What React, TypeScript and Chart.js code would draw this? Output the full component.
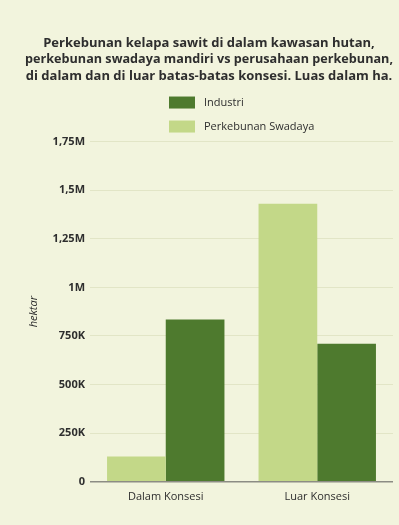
import React, { useEffect, useRef } from "react";
import { Chart, registerables } from "chart.js";

Chart.register(...registerables);

const categories = ["Dalam Konsesi", "Luar Konsesi"];
const swadayaValues = [130000, 1430000];
const industriValues = [835000, 710000];
const seriesLabels = ["Perkebunan Swadaya", "Industri"];
const yTickLabels = ["0", "250K", "500K", "750K", "1M", "1,25M", "1,5M", "1,75M"];
const titleLines = [
  "Perkebunan kelapa sawit di dalam kawasan hutan,",
  "perkebunan swadaya mandiri vs perusahaan perkebunan,",
  "di dalam dan di luar batas-batas konsesi. Luas dalam ha.",
];
const yAxisTitle = "hektar";

const BG = "#f2f4dd";
const DARK = "#4e7a2e";
const LIGHT = "#c3d888";
const TEXT = "#2e2e2e";
const FONT = "'Open Sans', Lato, sans-serif";

const bgPlugin = {
  id: "bg",
  beforeDraw(chart: any) {
    const { ctx, width, height } = chart;
    ctx.save();
    ctx.fillStyle = BG;
    ctx.fillRect(0, 0, width, height);
    ctx.restore();
  },
};

const stackedLegend = {
  id: "stackedLegend",
  afterDraw(chart: any) {
    const { ctx, chartArea } = chart;
    const items = chart.data.datasets
      .map((d: any) => ({ text: d.label, color: d.backgroundColor }))
      .reverse();
    ctx.save();
    ctx.font = `400 11px ${FONT}`;
    const boxW = 26;
    const boxH = 12;
    const gap = 9;
    const maxText = Math.max(...items.map((it: any) => ctx.measureText(it.text).width));
    const blockW = boxW + gap + maxText;
    const cx = (chartArea.left + chartArea.right) / 2;
    const left = Math.round(cx - blockW / 2);
    const rowCenters = [chartArea.top - 39, chartArea.top - 15];
    items.forEach((it: any, i: number) => {
      const y = rowCenters[i];
      ctx.fillStyle = it.color;
      ctx.fillRect(left, y - boxH / 2, boxW, boxH);
      ctx.fillStyle = TEXT;
      ctx.textAlign = "left";
      ctx.textBaseline = "middle";
      ctx.fillText(it.text, left + boxW + gap, y);
    });
    ctx.restore();
  },
};

export default function App() {
  const ref = useRef<HTMLCanvasElement | null>(null);
  useEffect(() => {
    document.body.style.margin = "0";
    document.body.style.background = BG;
    const chart = new Chart(ref.current as HTMLCanvasElement, {
      type: "bar",
      data: {
        labels: categories,
        datasets: [
          {
            label: seriesLabels[0],
            data: swadayaValues,
            backgroundColor: LIGHT,
            barPercentage: 1,
            categoryPercentage: 0.775,
          },
          {
            label: seriesLabels[1],
            data: industriValues,
            backgroundColor: DARK,
            barPercentage: 1,
            categoryPercentage: 0.775,
          },
        ],
      },
      options: {
        animation: false,
        responsive: false,
        maintainAspectRatio: false,
        layout: { padding: { left: 25, right: 6, top: 0, bottom: 14 } },
        plugins: {
          legend: { display: false },
          tooltip: { enabled: false },
          title: {
            display: true,
            text: titleLines,
            color: TEXT,
            font: { family: FONT, size: 13, weight: "bold", lineHeight: 1.27 },
            padding: { top: 35, bottom: 57 },
          },
        },
        scales: {
          x: {
            grid: { display: false, drawTicks: false },
            border: { display: false },
            ticks: {
              color: TEXT,
              padding: 8,
              font: { family: FONT, size: 11 },
            },
          },
          y: {
            min: 0,
            max: 1750000,
            afterFit(scale: any) {
              scale.width = 65;
            },
            grid: {
              drawTicks: false,
              color: (c: any) => (c.tick && c.tick.value === 0 ? "#8c8c84" : "#e2e5c6"),
              lineWidth: (c: any) => (c.tick && c.tick.value === 0 ? 1.5 : 1),
            },
            border: { display: false },
            ticks: {
              stepSize: 250000,
              color: TEXT,
              padding: 5,
              font: { family: FONT, size: 11, weight: "bold" },
              callback: (_v: any, i: number) => yTickLabels[i],
            },
            title: {
              display: true,
              text: yAxisTitle,
              color: TEXT,
              font: { family: FONT, size: 11, style: "italic" },
              padding: { top: 2, bottom: 2 },
            },
          },
        },
      },
      plugins: [bgPlugin, stackedLegend],
    } as any);
    return () => chart.destroy();
  }, []);
  return (
    <div style={{ width: 399, height: 525, background: BG }}>
      <canvas ref={ref} width={399} height={525} style={{ display: "block" }} />
    </div>
  );
}
